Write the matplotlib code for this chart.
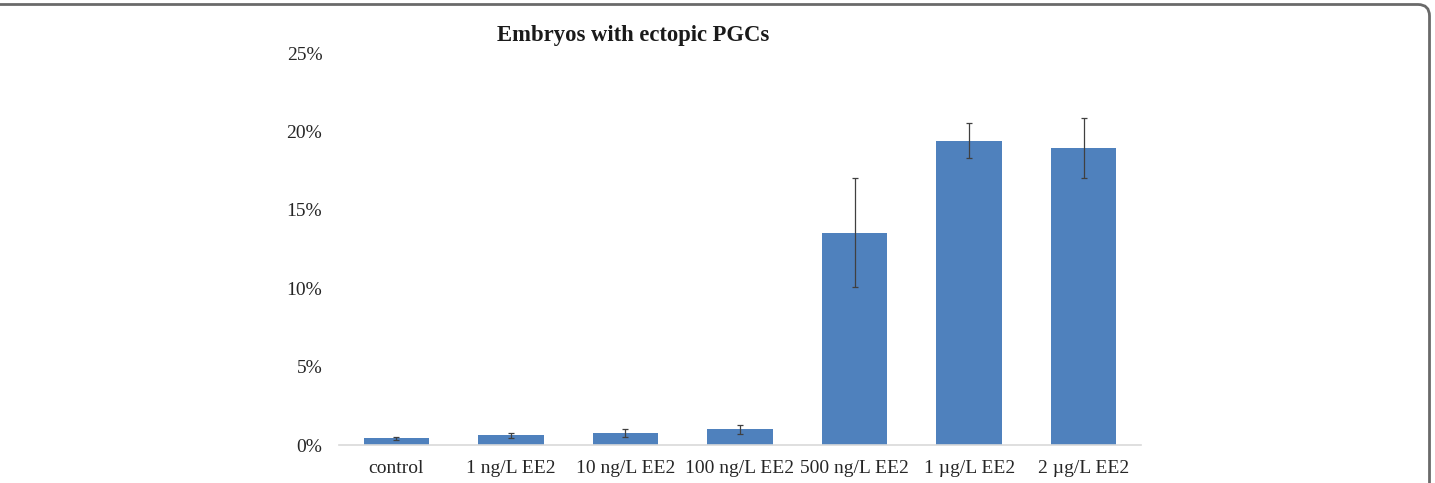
import matplotlib.pyplot as plt
from matplotlib.patches import FancyBboxPatch
from matplotlib.ticker import FuncFormatter

# valores (%)
groups = ["control", "1 ng/L EE2", "10 ng/L EE2", "100 ng/L EE2",
          "500 ng/L EE2", "1 µg/L EE2", "2 µg/L EE2"]
ectopic = [0.43, 0.61, 0.77, 1.0, 13.55, 19.41, 18.92]
ectopic_err = [0.1, 0.17, 0.25, 0.27, 3.45, 1.1, 1.92]
y_ticks = [0, 5, 10, 15, 20, 25]

plt.rcParams['font.family'] = ['Liberation Serif', 'DejaVu Serif']

fig = plt.figure(figsize=(14.35, 4.83), dpi=100)
ax = fig.add_axes([339 / 1435, 1 - 445 / 483, 802 / 1435, (445 - 53) / 483])

x = range(len(groups))
ax.bar(x, ectopic, width=0.57, color="#4f81bd", zorder=2)
ax.errorbar(x, ectopic, yerr=ectopic_err, fmt="none", ecolor="#404040",
            elinewidth=0.9, capsize=2.5, capthick=0.9, zorder=3)

ax.set_xlim(-0.5, len(groups) - 0.5)
ax.set_ylim(0, 25)
ax.set_yticks(y_ticks)
ax.yaxis.set_major_formatter(FuncFormatter(lambda v, p: f"{v:.0f}%"))
ax.set_xticks(list(x))
ax.set_xticklabels(groups)
ax.tick_params(axis="both", length=0, labelsize=14, colors="#262626")
ax.tick_params(axis="x", pad=11)
ax.tick_params(axis="y", pad=12)

for side in ["top", "right", "left"]:
    ax.spines[side].set_visible(False)
ax.spines["bottom"].set_color("#d9d9d9")
ax.spines["bottom"].set_linewidth(1.2)

fig.text(633 / 1435, 1 - 35 / 483, "Embryos with ectopic PGCs",
         ha="center", va="center", fontsize=16.3, fontweight="bold", color="#1a1a1a")

# moldura arredondada (só aparecem o topo e a direita)
frame = FancyBboxPatch((-0.05, -0.2), 0.05 + 1429.5 / 1435, 0.2 + 1 - 4.5 / 483,
                       boxstyle="round,pad=0,rounding_size=0.008",
                       transform=fig.transFigure, fill=False,
                       edgecolor="#6a6a6a", linewidth=2, mutation_aspect=1435 / 483)
fig.patches.append(frame)

fig.savefig("out.png", dpi=100)
